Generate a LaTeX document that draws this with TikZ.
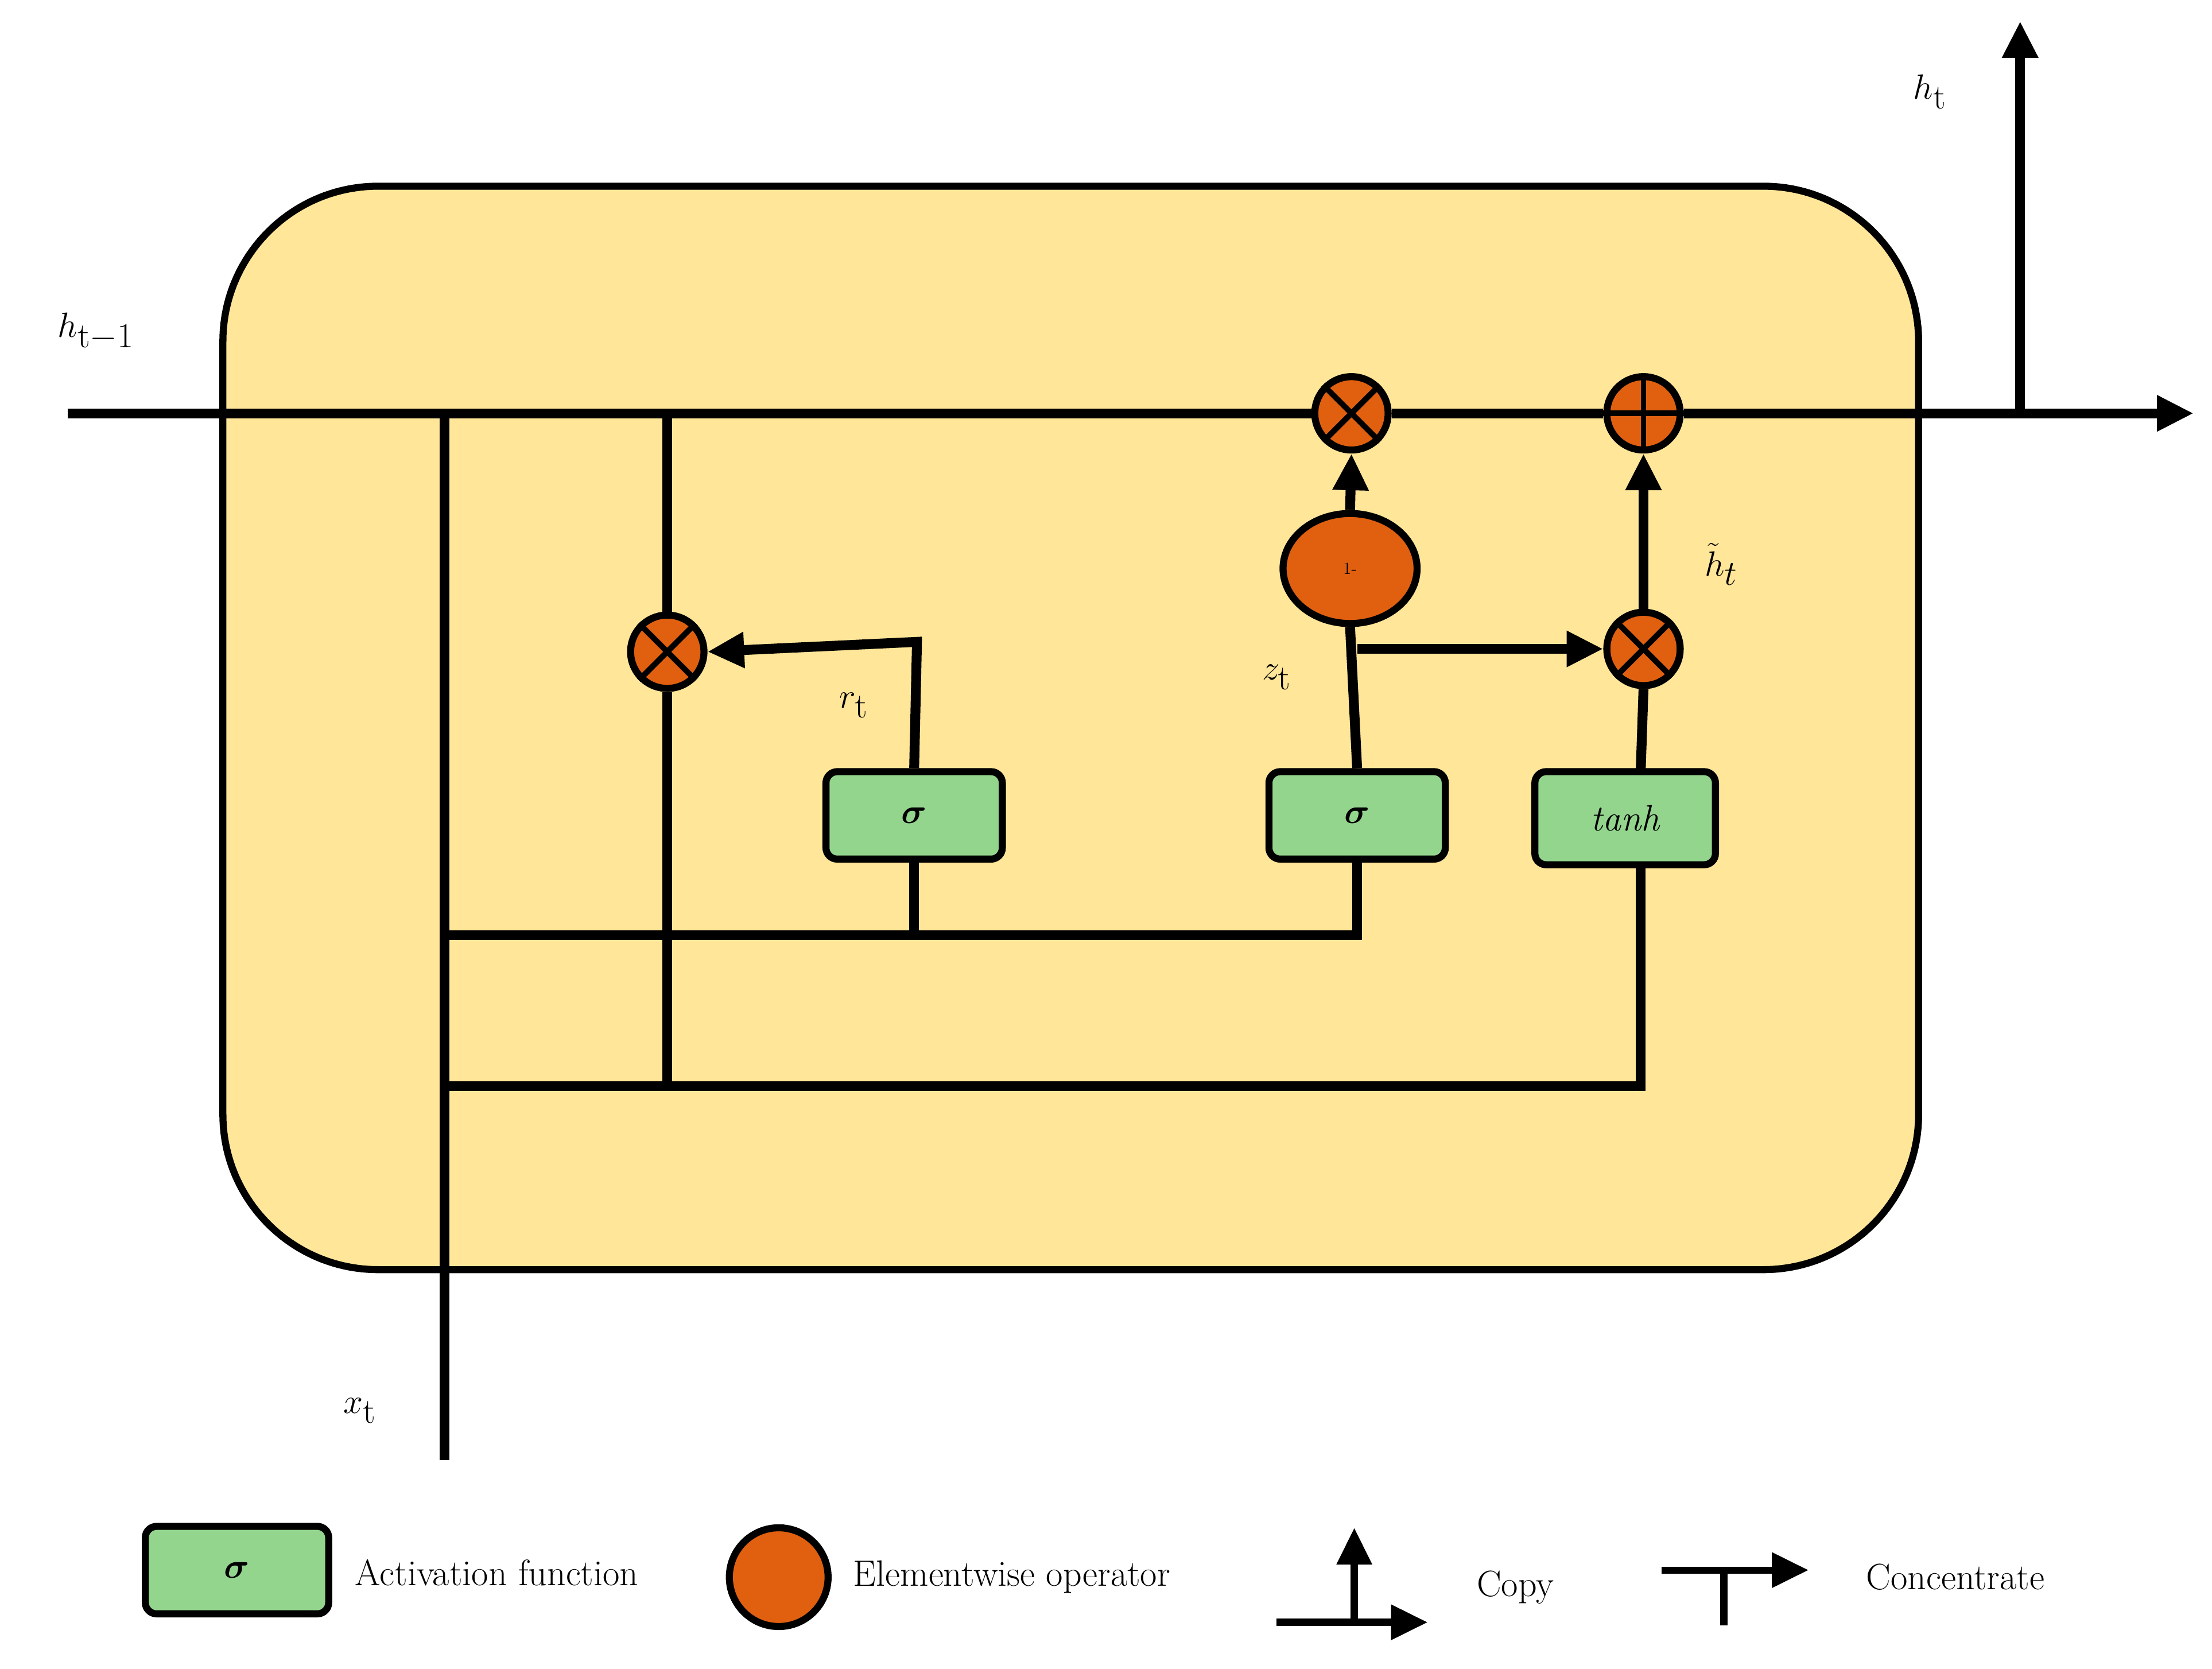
\documentclass[tikz,border=0pt]{standalone}
\usepackage{amsmath,bm}
\usetikzlibrary{arrows.meta,shapes.geometric}
\definecolor{cellfill}{HTML}{FFE699}
\definecolor{gatefill}{HTML}{94D58E}
\definecolor{opfill}{HTML}{E06010}
\begin{document}
\begin{tikzpicture}[x=1pt,y=-1pt,
  line width=7pt,
  arr/.style={-{Triangle[length=26pt,width=24pt]}},
  gate/.style={draw,fill=gatefill,rounded corners=8pt,minimum width=125pt,minimum height=62pt,line width=5pt,inner sep=0pt,font=\fontsize{36}{40}\selectfont\bfseries},
  op/.style={draw,fill=opfill,circle,minimum size=52pt,line width=5pt,inner sep=0pt},
  lab/.style={font=\fontsize{50}{60}\selectfont},
  leg/.style={font=\fontsize{26}{30}\selectfont,anchor=west}]
\useasboundingbox (0,0) rectangle (1568,1183);
\draw[fill=cellfill,line width=5pt,rounded corners=110pt] (158,132) rectangle (1360,900);
% gates
\node[gate] (sr) at (648,578) {$\bm\sigma$};
\node[gate] (sz) at (962,578) {$\bm\sigma$};
\node[gate,minimum width=128pt,minimum height=66pt,font=\fontsize{26}{30}\selectfont\itshape] (th) at (1152,580) {tanh};
% ops
\node[op] (mr) at (473,462) {};
\node[op] (mz) at (958,293) {};
\node[op] (pl) at (1165,293) {};
\node[op] (mh) at (1165,460) {};
\node[draw,fill=opfill,ellipse,minimum width=95pt,minimum height=78pt,line width=5pt,font=\fontsize{12}{14}\selectfont] (om) at (957,403) {1-};
% coordinates
\coordinate (in) at (48,293);
\coordinate (out) at (1555,293);
\coordinate (hs) at (1432,293);
\coordinate (ht) at (1432,15);
\coordinate (xb) at (315,1035);
\coordinate (xt) at (315,293);
\coordinate (ja) at (473,293);
\coordinate (jb) at (473,770);
\coordinate (ya) at (315,663);
\coordinate (yb) at (315,770);
\coordinate (zb) at (962,460);
% main line
\draw (in) -- (mz) -- (pl);
\draw[arr] (pl) -- (out);
\draw[arr] (hs) -- (ht);
\draw (xb) -- (xt);
\draw (ja) -- (mr) -- (jb);
\draw (ya) -- (648,663) -- (962,663) -- (sz.south);
\draw (648,663) -- (sr.south);
\draw (yb) -- (1163,770) -- (1163,613);
\draw[arr] (sr.north) -- (650,455) -- (mr.east);
\draw (sz.north) -- (om.south);
\draw[arr] (om.north) -- (mz.south);
\draw[arr] (zb) -- (mh.west);
\draw (1163,547) -- (mh.south);
\draw[arr] (mh.north) -- (pl.south);
% op symbols
\foreach \n in {mr,mz,mh}{\draw[line width=4pt] (\n.north east)--(\n.south west) (\n.north west)--(\n.south east);}
\draw[line width=4pt] (pl.north)--(pl.south) (pl.west)--(pl.east);
% labels
\node[lab] (l1) at (68,235) {$h_{\mathrm{t-1}}$};
\node[lab] (l2) at (1368,65) {$h_{\mathrm{t}}$};
\node[lab] (l3) at (255,1000) {$x_{\mathrm{t}}$};
\node[lab] (l4) at (605,500) {$r_{\mathrm{t}}$};
\node[lab] (l5) at (905,480) {$z_{\mathrm{t}}$};
\node[lab] (l6) at (1220,400) {$\tilde h_t$};
% legend
\node[gate,minimum width=130pt,minimum height=62pt] (lg) at (168,1113) {$\bm\sigma$};
\node[leg] (lt1) at (245,1115) {Activation function};
\node[op,minimum size=70pt] (lo) at (552,1118) {};
\node[leg] (lt2) at (598,1118) {Elementwise operator};
\coordinate (c0) at (905,1150); \coordinate (c1) at (1012,1150);
\coordinate (c2) at (960,1150); \coordinate (c3) at (960,1083);
\draw[arr,line width=5pt] (c0) -- (c1);
\draw[arr,line width=5pt] (c2) -- (c3);
\node[leg] (lt3) at (1040,1125) {Copy};
\coordinate (d0) at (1178,1113); \coordinate (d1) at (1282,1113);
\coordinate (d2) at (1222,1113); \coordinate (d3) at (1222,1152);
\draw[arr,line width=5pt] (d0) -- (d1);
\draw[line width=5pt] (d2) -- (d3);
\node[leg] (lt4) at (1316,1118) {Concentrate};
\end{tikzpicture}
\end{document}
